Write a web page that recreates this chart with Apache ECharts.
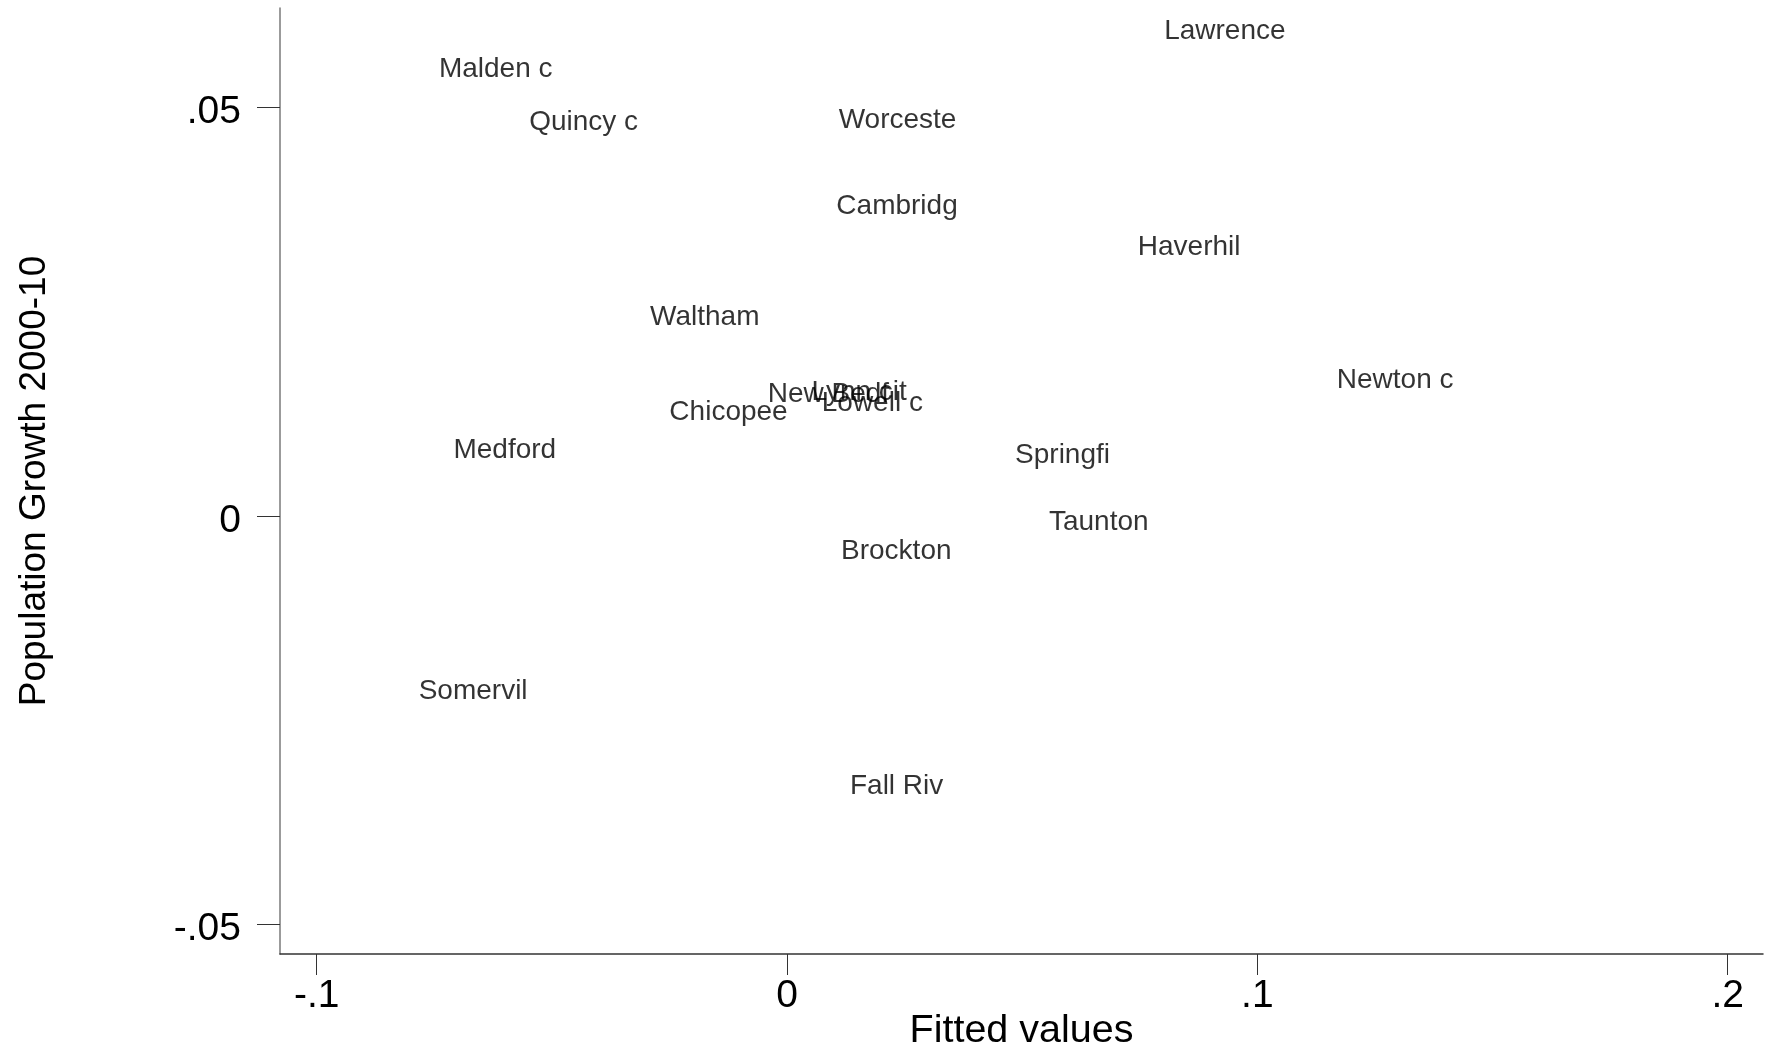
<!DOCTYPE html>
<html>
<head>
<meta charset="utf-8">
<title>Population Growth 2000-10 vs Fitted values</title>
<script src="https://cdn.jsdelivr.net/npm/echarts@6/dist/echarts.min.js"></script>
<style>
  html, body { margin: 0; padding: 0; background: #ffffff; }
  #chart { width: 1771px; height: 1047px; }
</style>
</head>
<body>
<div id="chart"></div>
<script>
// Massachusetts cities: fitted values against population growth 2000-10
const cityNames = [
  'Lawrence', 'Malden c', 'Quincy c', 'Worceste', 'Cambridg', 'Haverhil',
  'Waltham', 'Newton c', 'New Bedf', 'Lynn cit', 'Lowell c', 'Chicopee',
  'Medford', 'Springfi', 'Taunton', 'Brockton', 'Somervil', 'Fall Riv'
];
const fittedValues = [
  0.0788, -0.0754, -0.0562, 0.0096, 0.0091, 0.0732,
  -0.0305, 0.1155, -0.0055, 0.0038, 0.0060, -0.0264,
  -0.0723, 0.0471, 0.0543, 0.0101, -0.0797, 0.0120
];
const popGrowth = [
  0.0594, 0.0547, 0.0482, 0.0485, 0.0379, 0.0329,
  0.0244, 0.0166, 0.0149, 0.0152, 0.0138, 0.0127,
  0.0081, 0.0074, -0.0007, -0.0043, -0.0215, -0.0331
];

const xTickValues = [-0.1, 0, 0.1, 0.2];
const xTickLabels = ['-.1', '0', '.1', '.2'];
const yTickValues = [-0.05, 0, 0.05];
const yTickLabels = ['-.05', '0', '.05'];

function tickText(values, labels) {
  return function (v) {
    for (let i = 0; i < values.length; i++) {
      if (Math.abs(values[i] - v) < 1e-9) return labels[i];
    }
    return '';
  };
}

const FONT = '"Liberation Sans", Arial, Helvetica, sans-serif';

const chart = echarts.init(document.getElementById('chart'), null, { renderer: 'canvas' });

chart.setOption({
  backgroundColor: '#ffffff',
  animation: false,
  grid: {
    left: 280,
    right: 8,
    top: 8,
    bottom: 93,
    containLabel: false,
    outerBoundsMode: 'none'
  },
  xAxis: {
    type: 'value',
    min: -0.1078,
    max: 0.2075,
    name: 'Fitted values',
    nameLocation: 'middle',
    nameGap: 57,
    nameMoveOverlap: false,
    nameTextStyle: { fontFamily: FONT, fontSize: 39.5, color: '#000000' },
    splitLine: { show: false },
    axisLine: { show: true, onZero: false, lineStyle: { color: '#333333', width: 1.5 } },
    axisTick: {
      show: true,
      length: 21,
      customValues: xTickValues,
      lineStyle: { color: '#333333', width: 1 }
    },
    axisLabel: {
      customValues: xTickValues,
      formatter: tickText(xTickValues, xTickLabels),
      margin: 23,
      fontFamily: FONT,
      fontSize: 39,
      color: '#000000'
    }
  },
  yAxis: {
    type: 'value',
    min: -0.0536,
    max: 0.0622,
    name: 'Population Growth 2000-10',
    nameLocation: 'middle',
    nameGap: 227,
    nameRotate: 90,
    nameMoveOverlap: false,
    nameTextStyle: { fontFamily: FONT, fontSize: 37, color: '#000000' },
    splitLine: { show: false },
    axisLine: { show: true, onZero: false, lineStyle: { color: '#7a7a7a', width: 1.5 } },
    axisTick: {
      show: true,
      length: 23,
      customValues: yTickValues,
      lineStyle: { color: '#333333', width: 1 }
    },
    axisLabel: {
      customValues: yTickValues,
      formatter: tickText(yTickValues, yTickLabels),
      margin: 39,
      verticalAlign: 'top',
      lineHeight: 10,
      fontFamily: FONT,
      fontSize: 39,
      color: '#000000'
    }
  },
  series: [{
    type: 'scatter',
    symbol: 'circle',
    symbolSize: 1,
    itemStyle: { color: 'rgba(0,0,0,0)' },
    emphasis: { disabled: true },
    silent: true,
    label: {
      show: true,
      position: 'right',
      distance: 6,
      offset: [0, 4],
      formatter: '{b}',
      fontFamily: FONT,
      fontSize: 28,
      color: '#000000'
    },
    labelLayout: { hideOverlap: false },
    data: cityNames.map((n, i) => ({ name: n, value: [fittedValues[i], popGrowth[i]] }))
  }]
});
</script>
</body>
</html>
